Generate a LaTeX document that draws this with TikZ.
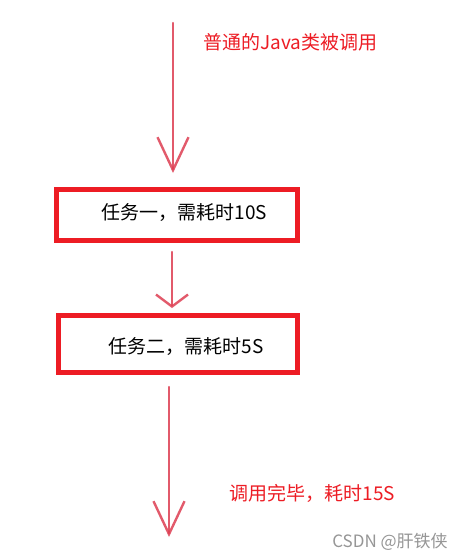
\documentclass[tikz,border=0pt]{standalone}
\usepackage{fontspec}
\setmainfont{Noto Sans CJK SC}
\usetikzlibrary{arrows.meta}
\definecolor{boxred}{RGB}{237,28,36}
\definecolor{arrred}{RGB}{222,62,82}
\definecolor{wmgrey}{RGB}{150,150,150}
\tikzset{
  box/.style={draw=boxred, line width=5pt, inner sep=0pt},
  lbl/.style={font=\fontsize{19}{19}\selectfont, text=black},
  redtxt/.style={font=\fontsize{19}{19}\selectfont, text=boxred, inner sep=0pt},
  arr/.style={draw=arrred, line width=2.4pt, line cap=round, opacity=0.85},
  bigbarb/.style={-{Straight Barb[length=33pt, width=31pt, line width=2.4pt]}},
  smallbarb/.style={-{Straight Barb[length=12pt, width=32pt, line width=2.4pt]}}
}
\begin{document}
\begin{tikzpicture}[x=1pt, y=-1pt]
\useasboundingbox (0,0) rectangle (465,559);
\fill[white] (0,0) rectangle (465,559);
% boxes
\node[box, minimum width=241pt, minimum height=51pt,
      label={[lbl, xshift=7.5pt, yshift=2pt]center:任务一，需耗时10S}] (b1) at (177,215) {};
\node[box, minimum width=239pt, minimum height=57pt,
      label={[lbl, xshift=8pt, yshift=-3pt]center:任务二，需耗时5S}] (b2) at (178,344) {};
% free ends
\coordinate (start) at (173,23);
\coordinate (finish) at (169,537);
% connectors
\draw[arr, bigbarb] (start) -- ([xshift=-4pt, yshift=14pt]b1.north);
\draw[arr, smallbarb] ([xshift=-5pt, yshift=-9pt]b1.south) -- ([xshift=-6pt, yshift=5pt]b2.north);
\draw[arr, bigbarb] ([xshift=-9pt, yshift=-12pt]b2.south) -- (finish);
% texts
\node[redtxt] (t1) at (290.5,42) {普通的Java类被调用};
\node[redtxt] (t3) at (312.5,493) {调用完毕，耗时15S};
\node[font=\fontsize{17}{17}\selectfont, text=wmgrey, inner sep=0pt] (wm) at (390,542) {CSDN @肝铁侠};
\end{tikzpicture}
\end{document}
